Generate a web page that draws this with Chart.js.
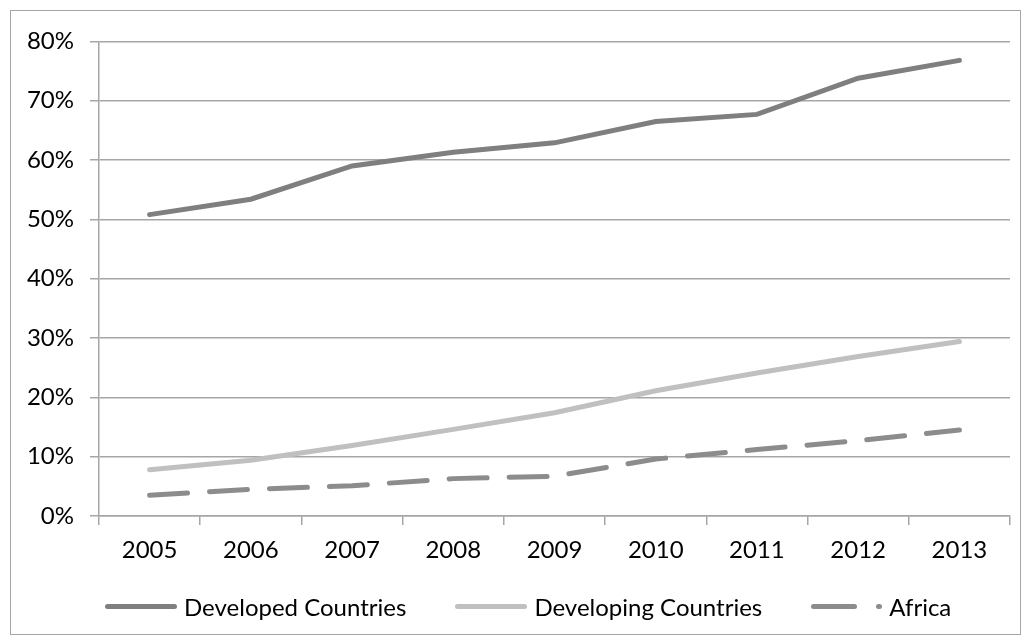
<!DOCTYPE html>
<html>
<head>
<meta charset="utf-8">
<script src="https://cdn.jsdelivr.net/npm/chart.js@4"></script>
<style>
  body { margin: 0; background: #fff; }
  #box { position: absolute; left: 10px; top: 10px; width: 1009px; height: 623px; border: 1px solid #a6a6a6; }
  #legend { position: absolute; left: 105px; top: 591px; height: 30px; display: flex; align-items: center;
            font-family: Lato, sans-serif; font-size: 24px; color: #000; white-space: nowrap; }
  .item { display: flex; align-items: center; margin-right: 49px; }
  .mark { display: flex; align-items: center; margin-right: 7px; }
  .seg { height: 5px; border-radius: 3px; }
</style>
</head>
<body>
<div id="box"><canvas id="myChart"></canvas></div>
<div id="legend"></div>
<script>
var years = ["2005", "2006", "2007", "2008", "2009", "2010", "2011", "2012", "2013"];
var developed = [50.8, 53.4, 59.0, 61.3, 62.9, 66.5, 67.7, 73.8, 76.8];
var developing = [7.8, 9.4, 11.9, 14.6, 17.4, 21.1, 24.1, 26.9, 29.4];
var africa = [3.5, 4.5, 5.1, 6.3, 6.7, 9.6, 11.2, 12.7, 14.5];
var yTicks = [0, 10, 20, 30, 40, 50, 60, 70, 80];

var gridColor = "#a6a6a6";
var fontName = "Lato";

var ctx = document.getElementById("myChart").getContext('2d');
var myChart = new Chart(ctx, {
  type: 'line',
  data: {
    labels: years,
    datasets: [
      { label: "Developed Countries", data: developed, borderColor: "#7f7f7f", borderWidth: 5 },
      { label: "Developing Countries", data: developing, borderColor: "#c0c0c0", borderWidth: 5 },
      { label: "Africa", data: africa, borderColor: "#8c8c8c", borderWidth: 5, borderDash: [38, 22] }
    ]
  },
  options: {
    responsive: true,
    maintainAspectRatio: false,
    animation: false,
    elements: {
      point: { radius: 0 },
      line: { tension: 0, borderCapStyle: 'round', fill: false }
    },
    layout: { padding: { left: 0, right: 10, top: 30, bottom: 68 } },
    plugins: {
      tooltip: { enabled: false },
      legend: { display: false }
    },
    scales: {
      x: {
        offset: true,
        grid: { display: true, drawOnChartArea: false, offset: true, color: gridColor, tickLength: 9, lineWidth: 1.5 },
        border: { color: gridColor, width: 1.5 },
        ticks: { color: "#000", font: { family: fontName, size: 24 }, padding: 11, maxRotation: 0 },
        afterFit: function (s) { s.height = 50; }
      },
      y: {
        min: 0,
        max: 80,
        afterBuildTicks: function (s) { s.ticks = yTicks.map(function (v) { return { value: v }; }); },
        grid: { color: gridColor, tickLength: 9, lineWidth: 1.5 },
        border: { color: gridColor, width: 1.5 },
        ticks: {
          color: "#000",
          font: { family: fontName, size: 24 },
          padding: 16,
          callback: function (v) { return v + "%"; }
        },
        afterFit: function (s) { s.width = 88; }
      }
    }
  }
});

// legend below the plot, built from the datasets
var lg = document.getElementById("legend");
myChart.data.datasets.forEach(function (ds) {
  var item = document.createElement("div");
  item.className = "item";
  var mark = document.createElement("div");
  mark.className = "mark";
  if (ds.borderDash) {
    mark.innerHTML = '<div class="seg" style="width:46px;background:' + ds.borderColor + '"></div>' +
                     '<div class="seg" style="width:6px;margin-left:19px;background:' + ds.borderColor + '"></div>';
  } else {
    mark.innerHTML = '<div class="seg" style="width:72px;background:' + ds.borderColor + '"></div>';
  }
  var txt = document.createElement("span");
  txt.textContent = ds.label;
  item.appendChild(mark);
  item.appendChild(txt);
  lg.appendChild(item);
});
</script>
</body>
</html>
